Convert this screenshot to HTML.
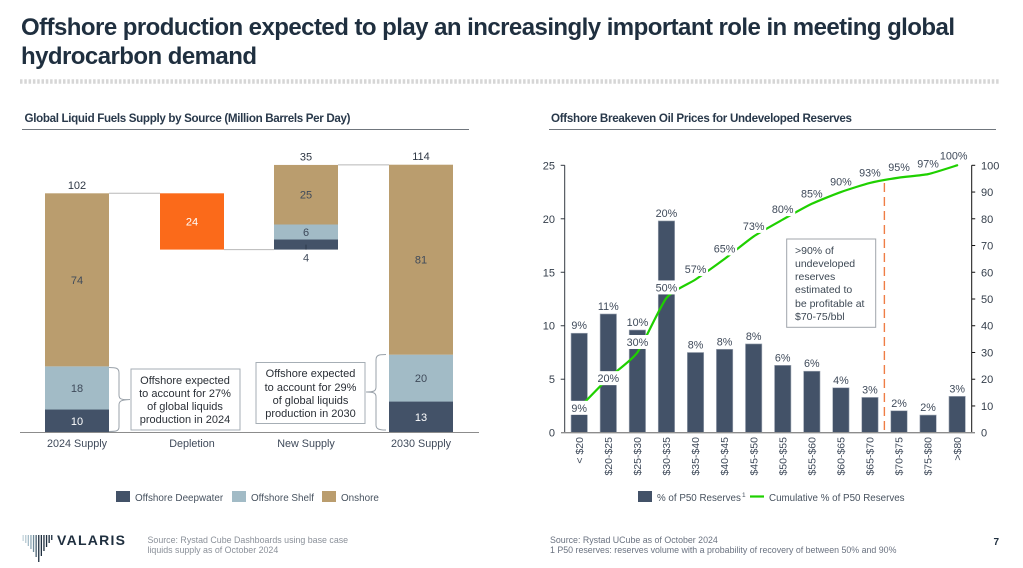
<!DOCTYPE html>
<html lang="en">
<head>
<meta charset="utf-8">
<title>Offshore production</title>
<style>
html,body{margin:0;padding:0;background:#fff;}
svg{display:block;font-family:"Liberation Sans",sans-serif;}
</style>
</head>
<body>
<svg id="slide" xmlns="http://www.w3.org/2000/svg" width="1023" height="568" viewBox="0 0 1023 568">
  <rect width="1023" height="568" fill="#ffffff"/>
  <g font-size="24" font-weight="700" fill="#1f2f3f">
    <text x="21" y="35" textLength="934" lengthAdjust="spacing">Offshore production expected to play an increasingly important role in meeting global</text>
    <text x="21" y="64" textLength="236" lengthAdjust="spacing">hydrocarbon demand</text>
  </g>
  <line x1="20" y1="81.5" x2="1000" y2="81.5" stroke="#d6d6d6" stroke-width="4.5" stroke-dasharray="2.5 1.8"/>

  <text x="24.5" y="122" font-size="11.6" font-weight="700" fill="#28384a" textLength="326" lengthAdjust="spacing">Global Liquid Fuels Supply by Source (Million Barrels Per Day)</text>
  <line x1="22" y1="129.5" x2="469" y2="129.5" stroke="#70767d" stroke-width="1"/>
  <text x="551" y="122" font-size="11.6" font-weight="700" fill="#28384a" textLength="301" lengthAdjust="spacing">Offshore Breakeven Oil Prices for Undeveloped Reserves</text>
  <line x1="549" y1="129.5" x2="996" y2="129.5" stroke="#70767d" stroke-width="1"/>

  <g id="left-chart"></g>

  <path d="M109 367.5 C116 367.5 119 368 119 373 L119 395 C119 399 121 400 130 399.5 C121 400 119 401 119 405 L119 427 C119 431 116 431.5 109 431.5" fill="none" stroke="#9aa2aa" stroke-width="1"/>
  <path d="M386 354.5 C379 354.5 376 355 376 360 L376 387 C376 391 374 392 366 392 C374 392 376 393 376 397 L376 425 C376 429 379 430 386 430" fill="none" stroke="#9aa2aa" stroke-width="1"/>
  <rect x="131" y="369" width="109" height="61" fill="#fff" stroke="#a6aeb5" stroke-width="1"/>
  <g font-size="11" fill="#2a2f36" text-anchor="middle">
    <text x="185" y="384">Offshore expected</text>
    <text x="185" y="397">to account for 27%</text>
    <text x="185" y="410">of global liquids</text>
    <text x="185" y="423">production in 2024</text>
  </g>
  <rect x="256" y="362.5" width="109" height="61" fill="#fff" stroke="#a6aeb5" stroke-width="1"/>
  <g font-size="11" fill="#2a2f36" text-anchor="middle">
    <text x="310.5" y="377">Offshore expected</text>
    <text x="310.5" y="391">to account for 29%</text>
    <text x="310.5" y="404">of global liquids</text>
    <text x="310.5" y="417">production in 2030</text>
  </g>

  <g font-size="9.9" fill="#47525f">
    <rect x="116" y="491" width="14" height="11" fill="#435268"/>
    <text x="135" y="501">Offshore Deepwater</text>
    <rect x="232" y="491" width="14" height="11" fill="#a2bbc6"/>
    <text x="251" y="501">Offshore Shelf</text>
    <rect x="322" y="491" width="14" height="11" fill="#ba9d6e"/>
    <text x="341" y="501">Onshore</text>
  </g>

  <g id="right-chart"></g>

  <rect x="786.7" y="239" width="89" height="88.3" fill="#fff" stroke="#a0a5ab" stroke-width="1"/>
  <g font-size="10.5" fill="#3d4854">
    <text x="795" y="254">&gt;90% of</text>
    <text x="795" y="267">undeveloped</text>
    <text x="795" y="280">reserves</text>
    <text x="795" y="293">estimated to</text>
    <text x="795" y="307">be profitable at</text>
    <text x="795" y="320">$70-75/bbl</text>
  </g>

  <g font-size="9.8" fill="#47525f">
    <rect x="638" y="491" width="14" height="11" fill="#435268"/>
    <text x="657" y="501">% of P50 Reserves</text>
    <text x="742" y="497" font-size="6.5">1</text>
    <line x1="750" y1="496.5" x2="764" y2="496.5" stroke="#1fd000" stroke-width="2.2"/>
    <text x="769" y="501">Cumulative % of P50 Reserves</text>
  </g>

  <g id="logo-marks"></g>
  <text x="57" y="545" font-size="14" font-weight="700" fill="#1f2f3f" textLength="68" lengthAdjust="spacing">VALARIS</text>

  <g font-size="8.85" fill="#8a9099">
    <text x="147.5" y="543">Source: Rystad Cube Dashboards using base case</text>
    <text x="147.5" y="553">liquids supply as of October 2024</text>
  </g>
  <g font-size="8.83" fill="#6a7280">
    <text x="550" y="543">Source: Rystad UCube as of October 2024</text>
    <text x="550" y="553">1 P50 reserves: reserves volume with a probability of recovery of between 50% and 90%</text>
  </g>
  <text x="993.5" y="545" font-size="10" font-weight="700" fill="#1f2f3f">7</text>
</svg>
<script>
// Left chart data
const supplyCategories = ['2024 Supply', 'Depletion', 'New Supply', '2030 Supply'];
const deepwaterValues = [9.8, 0, 4.3, 13.2];
const shelfValues = [18.4, 0, 6.4, 20];
const onshoreValues = [73.8, 0, 25.4, 81];
const depletionValues = [0, 24, 0, 0];
const totalLabels = ['102', '', '35', '114'];

// Right chart data
const priceCategories = ['< $20', '$20-$25', '$25-$30', '$30-$35', '$35-$40', '$40-$45', '$45-$50', '$50-$55', '$55-$60', '$60-$65', '$65-$70', '$70-$75', '$75-$80', '>$80'];
const reserveValues = [9.3, 11.1, 9.6, 19.8, 7.5, 7.8, 8.3, 6.3, 5.75, 4.2, 3.3, 2.05, 1.65, 3.4];
const reserveLabels = ['9%', '11%', '10%', '20%', '8%', '8%', '8%', '6%', '6%', '4%', '3%', '2%', '2%', '3%'];
const cumulativeValues = [9.3, 20.4, 30, 50.4, 57.3, 65, 73.4, 79.7, 85.6, 90, 93.4, 95.4, 96.7, 100];
const cumulativeLabels = ['9%', '20%', '30%', '50%', '57%', '65%', '73%', '80%', '85%', '90%', '93%', '95%', '97%', '100%'];
const leftTicks = [0, 5, 10, 15, 20, 25];
const rightTicks = [0, 10, 20, 30, 40, 50, 60, 70, 80, 90, 100];
const thresholdIndex = 10.5;

const NS = 'http://www.w3.org/2000/svg';
function make(parent, tag, props, txt) {
  const el = document.createElementNS(NS, tag);
  for (const k in props) el.setAttribute(k, props[k]);
  if (txt !== undefined) el.textContent = txt;
  parent.appendChild(el);
  return el;
}

/* ---------- Left chart ---------- */
const L = document.getElementById('left-chart');
const supplyBase = 432.5;
const supplyScale = 2.345;
const supplyCenters = [77, 192, 306, 421];
const supplyBarW = 64;
const ink = '#3f4a5a';
function ySupply(v) { return supplyBase - v * supplyScale; }
function xSupply(i) { return supplyCenters[i]; }

// Running floor for each column of the waterfall
const floors = [];
const tops = [];
supplyCategories.forEach(function (c, i) {
  let floor = 0;
  let top = 0;
  if (i === 0 || i === supplyCategories.length - 1) {
    top = deepwaterValues[i] + shelfValues[i] + onshoreValues[i];
  } else if (depletionValues[i] > 0) {
    top = tops[i - 1];
    floor = top - depletionValues[i];
  } else {
    floor = floors[i - 1];
    top = floor + deepwaterValues[i] + shelfValues[i] + onshoreValues[i];
  }
  floors.push(floor);
  tops.push(top);
});

// Connector lines
[[0, tops[0]], [1, floors[1]], [2, tops[2]]].forEach(function (pair) {
  const i = pair[0];
  const conn = make(L, 'line', {
    x1: xSupply(i) + supplyBarW / 2, x2: xSupply(i + 1) - supplyBarW / 2,
    y1: ySupply(pair[1]), y2: ySupply(pair[1]),
    stroke: '#b8b8b8', 'stroke-width': 1
  });
  
  
});

supplyCategories.forEach(function (c, i) {
  const x = xSupply(i) - supplyBarW / 2;
  let cur = floors[i];
  const segs = [
    [deepwaterValues[i], '#435268', 'deepwater', '#ffffff'],
    [shelfValues[i], '#a2bbc6', 'shelf', ink],
    [onshoreValues[i], '#ba9d6e', 'onshore', ink]
  ];
  segs.forEach(function (s) {
    if (s[0] <= 0) return;
    const top = ySupply(cur + s[0]);
    const h = s[0] * supplyScale;
    const bar = make(L, 'rect', { x: x, y: top, width: supplyBarW, height: h, fill: s[1] });
    
    
    const isSmallNew = i === 2 && s[2] === 'deepwater';
    const ly = isSmallNew ? ySupply(cur) + 12 : top + h / 2 + 4;
    const lab = make(L, 'text', {
      x: xSupply(i), y: ly, 'text-anchor': 'middle', 'font-size': 11,
      fill: isSmallNew ? ink : s[3]
    }, String(Math.round(s[0])));
    
    
    if (isSmallNew) {
      const lead = make(L, 'line', {
        x1: xSupply(i), x2: xSupply(i), y1: ySupply(cur) - 5, y2: ySupply(cur),
        stroke: '#2a3444', 'stroke-width': 0.8
      });
      
      
    }
    cur += s[0];
  });
  if (depletionValues[i] > 0) {
    const top = ySupply(tops[i]);
    const h = depletionValues[i] * supplyScale;
    const dep = make(L, 'rect', { x: x, y: top, width: supplyBarW, height: h, fill: '#fb6a1a' });
    
    
    const depLab = make(L, 'text', {
      x: xSupply(i), y: top + h / 2 + 4, 'text-anchor': 'middle', 'font-size': 11, fill: '#ffffff'
    }, String(depletionValues[i]));
    
    
  }
  if (totalLabels[i]) {
    const tot = make(L, 'text', {
      x: xSupply(i), y: ySupply(tops[i]) - 4.5, 'text-anchor': 'middle', 'font-size': 11, fill: '#2f3845'
    }, totalLabels[i]);
    
    
  }
  const cat = make(L, 'text', {
    x: xSupply(i), y: 447, 'text-anchor': 'middle', 'font-size': 10.8, fill: ink
  }, c);
  
  
});
const leftBase = make(L, 'line', { x1: 20, x2: 479, y1: supplyBase, y2: supplyBase, stroke: '#8c8c8c', 'stroke-width': 1 });



/* ---------- Right chart ---------- */
const R = document.getElementById('right-chart');
const plotLeft = 564.7;
const plotRight = 971.7;
const plotBase = 432.7;
const plotTop = 165.3;
const band = (plotRight - plotLeft) / priceCategories.length;
function xPrice(i) { return plotLeft + band * (i + 0.5); }
function yLeftAxis(v) { return plotBase - (v / 25) * (plotBase - plotTop); }
function yRightAxis(v) { return plotBase - (v / 100) * (plotBase - plotTop); }

// Bars
priceCategories.forEach(function (c, i) {
  const top = yLeftAxis(reserveValues[i]);
  const bar = make(R, 'rect', {
    x: xPrice(i) - 8.2, y: top, width: 16.4, height: plotBase - top,
    fill: '#435268', stroke: '#a2aab6', 'stroke-width': 0.6
  });
  
  
  const cat = make(R, 'text', {
    transform: 'translate(' + (xPrice(i) + 3.6) + ',437) rotate(-90)',
    'text-anchor': 'end', 'font-size': 10.5, fill: ink
  }, c);
  
  
});

// Threshold line between the $65-$70 and $70-$75 bands
const thresholdX = xPrice(thresholdIndex) - 0.1;
const thresholdY = yRightAxis(93.4);
const dash = make(R, 'line', {
  x1: thresholdX, x2: thresholdX, y1: thresholdY, y2: plotBase,
  stroke: '#ef7d45', 'stroke-width': 1.4, 'stroke-dasharray': '9 5'
});



// Cumulative line (smoothed through the data points)
const pts = cumulativeValues.map(function (v, i) { return [xPrice(i), yRightAxis(v)]; });
let d = 'M' + pts[0][0] + ' ' + pts[0][1];
for (let i = 0; i < pts.length - 1; i++) {
  const p0 = pts[Math.max(0, i - 1)];
  const p1 = pts[i];
  const p2 = pts[i + 1];
  const p3 = pts[Math.min(pts.length - 1, i + 2)];
  const k = 0.1;
  d += ' C' + (p1[0] + (p2[0] - p0[0]) * k) + ' ' + (p1[1] + (p2[1] - p0[1]) * k) +
       ' ' + (p2[0] - (p3[0] - p1[0]) * k) + ' ' + (p2[1] - (p3[1] - p1[1]) * k) +
       ' ' + p2[0] + ' ' + p2[1];
}
const cumLine = make(R, 'path', {
  d: d, fill: 'none', stroke: '#1fd000', 'stroke-width': 2.2, 'stroke-linejoin': 'round', 'stroke-linecap': 'round'
});



// Cumulative labels with white knock-out behind those that touch the line
cumulativeLabels.forEach(function (t, i) {
  const lift = i < 2 ? 0 : 10.5;
  const lx = i === cumulativeLabels.length - 1 ? pts[i][0] - 3.5 : pts[i][0];
  const ly = i === cumulativeLabels.length - 1 ? pts[i][1] - 10 : pts[i][1] - lift;
  if (i < 8) {
    const mask = make(R, 'rect', { x: lx - 12.5, y: ly - 7, width: 25, height: 14, fill: '#ffffff' });
    
    
  }
  const lab = make(R, 'text', {
    x: lx, y: ly + 4, 'text-anchor': 'middle', 'font-size': 10.8, fill: ink
  }, t);
  
  
});

// Bar labels
reserveLabels.forEach(function (t, i) {
  const lab = make(R, 'text', {
    x: xPrice(i), y: yLeftAxis(reserveValues[i]) - 4, 'text-anchor': 'middle', 'font-size': 10.8, fill: ink
  }, t);
  
  
});

// Axes
const axisL = make(R, 'line', { x1: plotLeft, x2: plotLeft, y1: plotTop, y2: plotBase, stroke: '#333a42', 'stroke-width': 1 });


const axisR = make(R, 'line', { x1: plotRight, x2: plotRight, y1: plotTop, y2: plotBase, stroke: '#111111', 'stroke-width': 1 });


const axisX = make(R, 'line', { x1: 561, x2: 975, y1: plotBase, y2: plotBase, stroke: '#8c8c8c', 'stroke-width': 1.3 });


leftTicks.forEach(function (v) {
  const y = yLeftAxis(v);
  if (v > 0) {
    const tick = make(R, 'line', { x1: plotLeft - 4, x2: plotLeft, y1: y, y2: y, stroke: '#333a42', 'stroke-width': 1 });
    
    
  }
  const lab = make(R, 'text', { x: 555, y: y + 4, 'text-anchor': 'end', 'font-size': 11, fill: '#343e4b' }, String(v));
  
  
});
rightTicks.forEach(function (v) {
  const y = yRightAxis(v);
  if (v > 0) {
    const tick = make(R, 'line', { x1: plotRight, x2: plotRight + 3.5, y1: y, y2: y, stroke: '#111111', 'stroke-width': 1 });
    
    
  }
  const lab = make(R, 'text', { x: 981, y: y + 4, 'font-size': 11, fill: '#343e4b' }, String(v));
  
  
});

/* ---------- Logo mark ---------- */
const logo = document.getElementById('logo-marks');
const logoLengths = [6, 8, 11, 14, 17, 22, 27, 21, 16, 12, 8, 5];
const logoColors = ['#c5d5dc', '#b8cad3', '#a5bcc8', '#8ea8b6', '#6f8a9a', '#4a6172', '#1f2f3f', '#1f2f3f', '#1f2f3f', '#1f2f3f', '#1f2f3f', '#1f2f3f'];
logoLengths.forEach(function (len, i) {
  const stripe = make(logo, 'rect', { x: 22.5 + i * 2.6, y: 535, width: 1.3, height: len, fill: logoColors[i] });
  
  
});
</script>
</body>
</html>
